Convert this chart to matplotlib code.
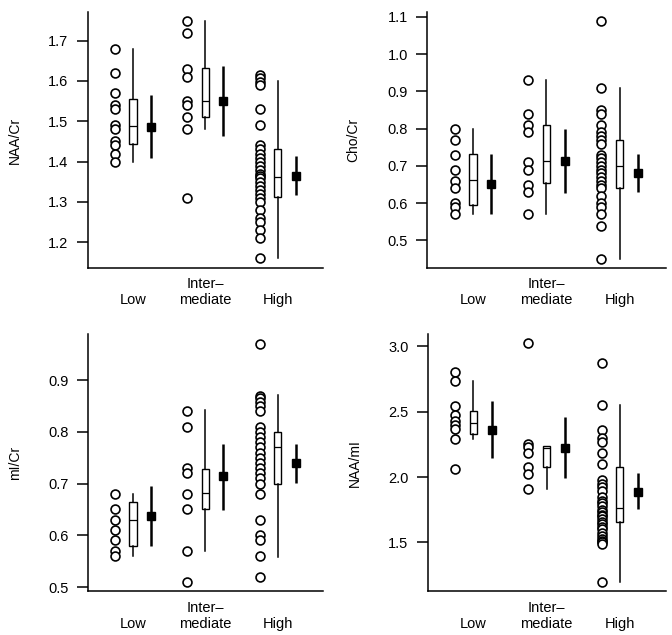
import matplotlib
matplotlib.use('Agg')
import matplotlib.pyplot as plt

plt.rcParams['font.family'] = ['Liberation Sans', 'DejaVu Sans']
plt.rcParams['font.size'] = 10

groups = ['Low', 'Inter\u2013\nmediate', 'High']

# NAA/Cr
naacr_low = [1.68, 1.62, 1.57, 1.54, 1.53, 1.49, 1.48, 1.45, 1.44, 1.42, 1.40]
naacr_int = [1.75, 1.72, 1.63, 1.61, 1.55, 1.54, 1.51, 1.48, 1.31]
naacr_high = [1.615, 1.607, 1.598, 1.59, 1.53, 1.49, 1.44, 1.43, 1.42, 1.41, 1.40, 1.39,
              1.38, 1.37, 1.365, 1.36, 1.35, 1.34, 1.33, 1.32, 1.31, 1.30, 1.28, 1.26,
              1.25, 1.23, 1.21, 1.16]
naacr_box = [(1.40, 1.444, 1.489, 1.555, 1.68),
             (1.48, 1.51, 1.551, 1.631, 1.75),
             (1.16, 1.311, 1.361, 1.431, 1.60)]
naacr_mean = [1.487, 1.55, 1.365]
naacr_ci = [(1.408, 1.565), (1.464, 1.638), (1.316, 1.415)]

# Cho/Cr
chocr_low = [0.80, 0.77, 0.73, 0.69, 0.66, 0.64, 0.60, 0.59, 0.57]
chocr_int = [0.93, 0.84, 0.81, 0.79, 0.71, 0.69, 0.65, 0.63, 0.57]
chocr_high = [1.09, 0.91, 0.85, 0.84, 0.81, 0.79, 0.78, 0.77, 0.76, 0.73, 0.72, 0.71,
              0.70, 0.69, 0.68, 0.67, 0.66, 0.65, 0.64, 0.62, 0.60, 0.59, 0.57, 0.54, 0.45]
chocr_box = [(0.57, 0.596, 0.662, 0.731, 0.80),
             (0.57, 0.653, 0.712, 0.81, 0.93),
             (0.45, 0.64, 0.70, 0.77, 0.91)]
chocr_mean = [0.651, 0.713, 0.681]
chocr_ci = [(0.57, 0.731), (0.627, 0.80), (0.631, 0.731)]

# mI/Cr
micr_low = [0.68, 0.65, 0.63, 0.61, 0.59, 0.57, 0.56]
micr_int = [0.84, 0.81, 0.73, 0.72, 0.68, 0.65, 0.57, 0.51]
micr_high = [0.97, 0.87, 0.865, 0.857, 0.85, 0.84, 0.81, 0.80, 0.79, 0.78, 0.77, 0.76,
             0.75, 0.74, 0.73, 0.72, 0.71, 0.70, 0.68, 0.63, 0.60, 0.59, 0.56, 0.52]
micr_box = [(0.56, 0.579, 0.63, 0.664, 0.68),
            (0.57, 0.65, 0.681, 0.729, 0.842),
            (0.559, 0.70, 0.77, 0.799, 0.871)]
micr_mean = [0.637, 0.714, 0.739]
micr_ci = [(0.579, 0.695), (0.648, 0.777), (0.702, 0.776)]

# NAA/mI
naami_low = [2.80, 2.73, 2.54, 2.47, 2.43, 2.40, 2.37, 2.29, 2.06]
naami_int = [3.02, 2.25, 2.23, 2.18, 2.08, 2.02, 1.91]
naami_high = [2.87, 2.55, 2.36, 2.30, 2.27, 2.18, 2.10, 1.98, 1.95, 1.92, 1.89, 1.85,
              1.82, 1.80, 1.78, 1.75, 1.73, 1.71, 1.70, 1.68, 1.66, 1.64, 1.62, 1.60,
              1.57, 1.55, 1.53, 1.51, 1.50, 1.49, 1.20]
naami_box = [(2.29, 2.325, 2.409, 2.506, 2.733),
             (1.908, 2.078, 2.223, 2.236, 2.236),
             (1.20, 1.658, 1.76, 2.078, 2.549)]
naami_mean = [2.358, 2.218, 1.887]
naami_ci = [(2.147, 2.582), (1.989, 2.46), (1.755, 2.027)]

panels = [
    ('NAA/Cr', [naacr_low, naacr_int, naacr_high], naacr_box, naacr_mean, naacr_ci,
     [0.131, 0.578, 0.350, 0.403], (1.136, 1.771), [1.2, 1.3, 1.4, 1.5, 1.6, 1.7]),
    ('Cho/Cr', [chocr_low, chocr_int, chocr_high], chocr_box, chocr_mean, chocr_ci,
     [0.636, 0.578, 0.355, 0.403], (0.426, 1.113), [0.5, 0.6, 0.7, 0.8, 0.9, 1.0, 1.1]),
    ('mI/Cr', [micr_low, micr_int, micr_high], micr_box, micr_mean, micr_ci,
     [0.131, 0.069, 0.350, 0.405], (0.492, 0.989), [0.5, 0.6, 0.7, 0.8, 0.9]),
    ('NAA/mI', [naami_low, naami_int, naami_high], naami_box, naami_mean, naami_ci,
     [0.637, 0.069, 0.354, 0.405], (1.128, 3.092), [1.5, 2.0, 2.5, 3.0]),
]

fig = plt.figure(figsize=(6.72, 6.35), dpi=100)
pos = [1, 2, 3]

for label, dots, box, means, ci, rect, ylim, yticks in panels:
    ax = fig.add_axes(rect)
    # raw points
    for p, vals in zip(pos, dots):
        ax.plot([p - 0.25] * len(vals), vals, 'o', mfc='white', mec='black',
                ms=6.4, mew=1.2, zorder=3)
    # box plots
    stats = [dict(whislo=b[0], q1=b[1], med=b[2], q3=b[3], whishi=b[4], fliers=[])
             for b in box]
    ax.bxp(stats, positions=pos, widths=0.1, showcaps=False, showfliers=False,
           patch_artist=True,
           boxprops=dict(facecolor='white', edgecolor='black', linewidth=1.0),
           medianprops=dict(color='black', linewidth=0.9),
           whiskerprops=dict(color='black', linewidth=1.1))
    # means with intervals
    for p, m, (lo, hi) in zip(pos, means, ci):
        ax.plot([p + 0.25, p + 0.25], [lo, hi], color='black', lw=1.8, solid_capstyle='butt')
        ax.plot(p + 0.25, m, 's', color='black', ms=6, zorder=3)

    ax.set_xlim(0.38, 3.63)
    ax.set_ylim(*ylim)
    ax.set_yticks(yticks)
    ax.set_yticklabels(['%.1f' % t for t in yticks])
    ax.set_xticks([])
    for s in ['top', 'right']:
        ax.spines[s].set_visible(False)
    for s in ['left', 'bottom']:
        ax.spines[s].set_linewidth(1.1)
    ax.tick_params(axis='y', length=8, width=1.1, pad=6, labelsize=10.5)
    ax.set_ylabel(label, fontsize=10)
    ax.yaxis.set_label_coords(-0.28, 0.5)

    tr = ax.get_xaxis_transform()
    ax.text(1, -0.127, 'Low', transform=tr, ha='center', va='center', fontsize=10.5)
    ax.text(2, -0.064, 'Inter\u2013', transform=tr, ha='center', va='center', fontsize=10.5)
    ax.text(2, -0.127, 'mediate', transform=tr, ha='center', va='center', fontsize=10.5)
    ax.text(3, -0.127, 'High', transform=tr, ha='center', va='center', fontsize=10.5)

fig.savefig('out.png', dpi=100)
